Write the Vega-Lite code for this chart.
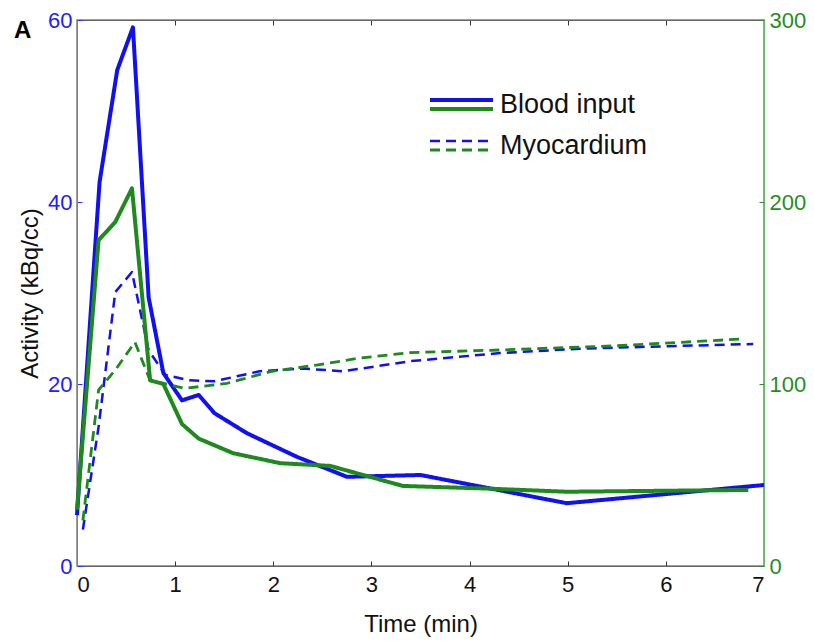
{
  "$schema": "https://vega.github.io/schema/vega-lite/v6.json",
  "width": 687,
  "height": 546,
  "autosize": {"type": "none"},
  "padding": {"left": 77, "top": 20, "right": 50, "bottom": 77},
  "title": {"text": "A", "anchor": "start", "frame": "group", "fontSize": 24, "fontWeight": "bold", "font": "Liberation Sans", "color": "#000000", "dx": -63, "dy": 34, "offset": 0},
  "config": {
    "font": "Liberation Sans",
    "view": {"stroke": "#808080", "strokeWidth": 1.5},
    "axis": {"grid": false, "labelFont": "Liberation Sans", "titleFont": "Liberation Sans", "labelFontSize": 22, "titleFontSize": 24, "titleFontWeight": "normal", "tickSize": -5, "labelPadding": 10}
  },
  "datasets": {
    "curves": [
      {"set": "blue", "curve": "Blood input", "t": 0.0, "value": 5.6},
      {"set": "blue", "curve": "Blood input", "t": 0.23, "value": 42.2},
      {"set": "blue", "curve": "Blood input", "t": 0.41, "value": 54.5},
      {"set": "blue", "curve": "Blood input", "t": 0.57, "value": 59.2},
      {"set": "blue", "curve": "Blood input", "t": 0.73, "value": 29.5},
      {"set": "blue", "curve": "Blood input", "t": 0.88, "value": 21.2},
      {"set": "blue", "curve": "Blood input", "t": 1.07, "value": 18.2},
      {"set": "blue", "curve": "Blood input", "t": 1.24, "value": 18.8},
      {"set": "blue", "curve": "Blood input", "t": 1.4, "value": 16.8},
      {"set": "blue", "curve": "Blood input", "t": 1.73, "value": 14.6},
      {"set": "blue", "curve": "Blood input", "t": 2.24, "value": 12.0},
      {"set": "blue", "curve": "Blood input", "t": 2.75, "value": 9.8},
      {"set": "blue", "curve": "Blood input", "t": 3.5, "value": 10.0},
      {"set": "blue", "curve": "Blood input", "t": 4.99, "value": 6.9},
      {"set": "blue", "curve": "Blood input", "t": 7.0, "value": 8.9},
      {"set": "blue", "curve": "Myocardium", "t": 0.06, "value": 4.0},
      {"set": "blue", "curve": "Myocardium", "t": 0.22, "value": 15.3},
      {"set": "blue", "curve": "Myocardium", "t": 0.39, "value": 30.1},
      {"set": "blue", "curve": "Myocardium", "t": 0.56, "value": 32.3},
      {"set": "blue", "curve": "Myocardium", "t": 0.73, "value": 23.7},
      {"set": "blue", "curve": "Myocardium", "t": 0.9, "value": 21.0},
      {"set": "blue", "curve": "Myocardium", "t": 1.15, "value": 20.4},
      {"set": "blue", "curve": "Myocardium", "t": 1.4, "value": 20.3},
      {"set": "blue", "curve": "Myocardium", "t": 1.86, "value": 21.4},
      {"set": "blue", "curve": "Myocardium", "t": 2.3, "value": 21.7},
      {"set": "blue", "curve": "Myocardium", "t": 2.71, "value": 21.4},
      {"set": "blue", "curve": "Myocardium", "t": 3.39, "value": 22.5},
      {"set": "blue", "curve": "Myocardium", "t": 4.31, "value": 23.4},
      {"set": "blue", "curve": "Myocardium", "t": 5.16, "value": 23.9},
      {"set": "blue", "curve": "Myocardium", "t": 6.89, "value": 24.4},
      {"set": "green", "curve": "Blood input", "t": 0.0, "value": 31},
      {"set": "green", "curve": "Blood input", "t": 0.22, "value": 179},
      {"set": "green", "curve": "Blood input", "t": 0.39, "value": 189},
      {"set": "green", "curve": "Blood input", "t": 0.56, "value": 207.5},
      {"set": "green", "curve": "Blood input", "t": 0.745, "value": 102},
      {"set": "green", "curve": "Blood input", "t": 0.88, "value": 100},
      {"set": "green", "curve": "Blood input", "t": 1.07, "value": 78},
      {"set": "green", "curve": "Blood input", "t": 1.24, "value": 70},
      {"set": "green", "curve": "Blood input", "t": 1.59, "value": 62},
      {"set": "green", "curve": "Blood input", "t": 2.07, "value": 56.5},
      {"set": "green", "curve": "Blood input", "t": 2.58, "value": 55},
      {"set": "green", "curve": "Blood input", "t": 3.32, "value": 44},
      {"set": "green", "curve": "Blood input", "t": 4.2, "value": 42.5},
      {"set": "green", "curve": "Blood input", "t": 4.99, "value": 40.8},
      {"set": "green", "curve": "Blood input", "t": 6.84, "value": 41.8},
      {"set": "green", "curve": "Myocardium", "t": 0.06, "value": 25},
      {"set": "green", "curve": "Myocardium", "t": 0.22, "value": 96.7},
      {"set": "green", "curve": "Myocardium", "t": 0.39, "value": 107.7},
      {"set": "green", "curve": "Myocardium", "t": 0.59, "value": 123},
      {"set": "green", "curve": "Myocardium", "t": 0.745, "value": 102},
      {"set": "green", "curve": "Myocardium", "t": 1.1, "value": 97.6},
      {"set": "green", "curve": "Myocardium", "t": 1.53, "value": 100.4},
      {"set": "green", "curve": "Myocardium", "t": 1.97, "value": 106.8},
      {"set": "green", "curve": "Myocardium", "t": 2.44, "value": 110.4},
      {"set": "green", "curve": "Myocardium", "t": 2.85, "value": 114},
      {"set": "green", "curve": "Myocardium", "t": 3.39, "value": 117.2},
      {"set": "green", "curve": "Myocardium", "t": 4.31, "value": 118.7},
      {"set": "green", "curve": "Myocardium", "t": 5.5, "value": 121},
      {"set": "green", "curve": "Myocardium", "t": 6.76, "value": 124.7}
    ]
  },
  "data": {"name": "curves"},
  "layer": [
    {
      "transform": [{"filter": "datum.set === 'blue'"}],
      "mark": {"type": "line", "color": "#1010f0", "strokeJoin": "round"},
      "encoding": {
        "x": {"field": "t", "type": "quantitative", "scale": {"domain": [0, 7], "nice": false}, "axis": {"title": "Time (min)", "values": [0, 1, 2, 3, 4, 5, 6, 7], "domainColor": "#666666", "tickColor": "#333333", "labelColor": "#111111", "titleColor": "#111111", "labelPadding": 13, "titlePadding": 17}},
        "y": {"field": "value", "type": "quantitative", "scale": {"domain": [0, 60], "nice": false}, "axis": {"title": "Activity (kBq/cc)", "values": [0, 20, 40, 60], "domainColor": "#7070ff", "tickColor": "#3030ff", "labelColor": "#2020ff", "titleColor": "#111111", "titlePadding": 5}},
        "strokeDash": {"field": "curve", "type": "nominal", "scale": {"domain": ["Blood input", "Myocardium"], "range": [[1, 0], [10, 6]]}, "legend": {"title": null, "orient": "none", "legendX": 371, "legendY": 71, "padding": 0, "symbolType": "M-3.15,-0.45H3.15", "symbolSize": 400, "symbolStrokeColor": "#1010f0", "symbolStrokeWidth": 3.5, "labelFontSize": 27, "labelColor": "#111111", "labelOffset": 25, "rowPadding": 13, "labelFont": "Liberation Sans"}},
        "strokeWidth": {"field": "curve", "type": "nominal", "scale": {"domain": ["Blood input", "Myocardium"], "range": [4, 2.5]}, "legend": null}
      }
    },
    {
      "transform": [{"filter": "datum.set === 'green'"}],
      "mark": {"type": "line", "color": "#1e8a1e", "strokeJoin": "round"},
      "encoding": {
        "x": {"field": "t", "type": "quantitative", "scale": {"domain": [0, 7], "nice": false}, "axis": {"orient": "top", "title": null, "labels": false, "values": [0, 1, 2, 3, 4, 5, 6, 7], "domainColor": "#666666", "tickColor": "#333333"}},
        "y": {"field": "value", "type": "quantitative", "scale": {"domain": [0, 300], "nice": false}, "axis": {"orient": "right", "title": null, "values": [0, 100, 200, 300], "domainColor": "#6ab86a", "tickColor": "#2e8b2e", "labelColor": "#1f8f1f"}},
        "strokeDash": {"field": "curve", "type": "nominal", "scale": {"domain": ["Blood input", "Myocardium"], "range": [[1, 0], [10, 6]]}, "legend": {"title": null, "orient": "none", "legendX": 371, "legendY": 71, "padding": 0, "symbolType": "M-3.15,0.45H3.15", "symbolSize": 400, "symbolStrokeColor": "#1e8a1e", "symbolStrokeWidth": 3.5, "labelFontSize": 27, "labelOpacity": 0, "labelOffset": 25, "rowPadding": 13, "labelFont": "Liberation Sans"}},
        "strokeWidth": {"field": "curve", "type": "nominal", "scale": {"domain": ["Blood input", "Myocardium"], "range": [4, 2.8]}, "legend": null}
      }
    }
  ],
  "resolve": {"scale": {"y": "independent", "strokeDash": "independent", "strokeWidth": "independent"}, "axis": {"x": "independent", "y": "independent"}, "legend": {"strokeDash": "independent"}}
}
